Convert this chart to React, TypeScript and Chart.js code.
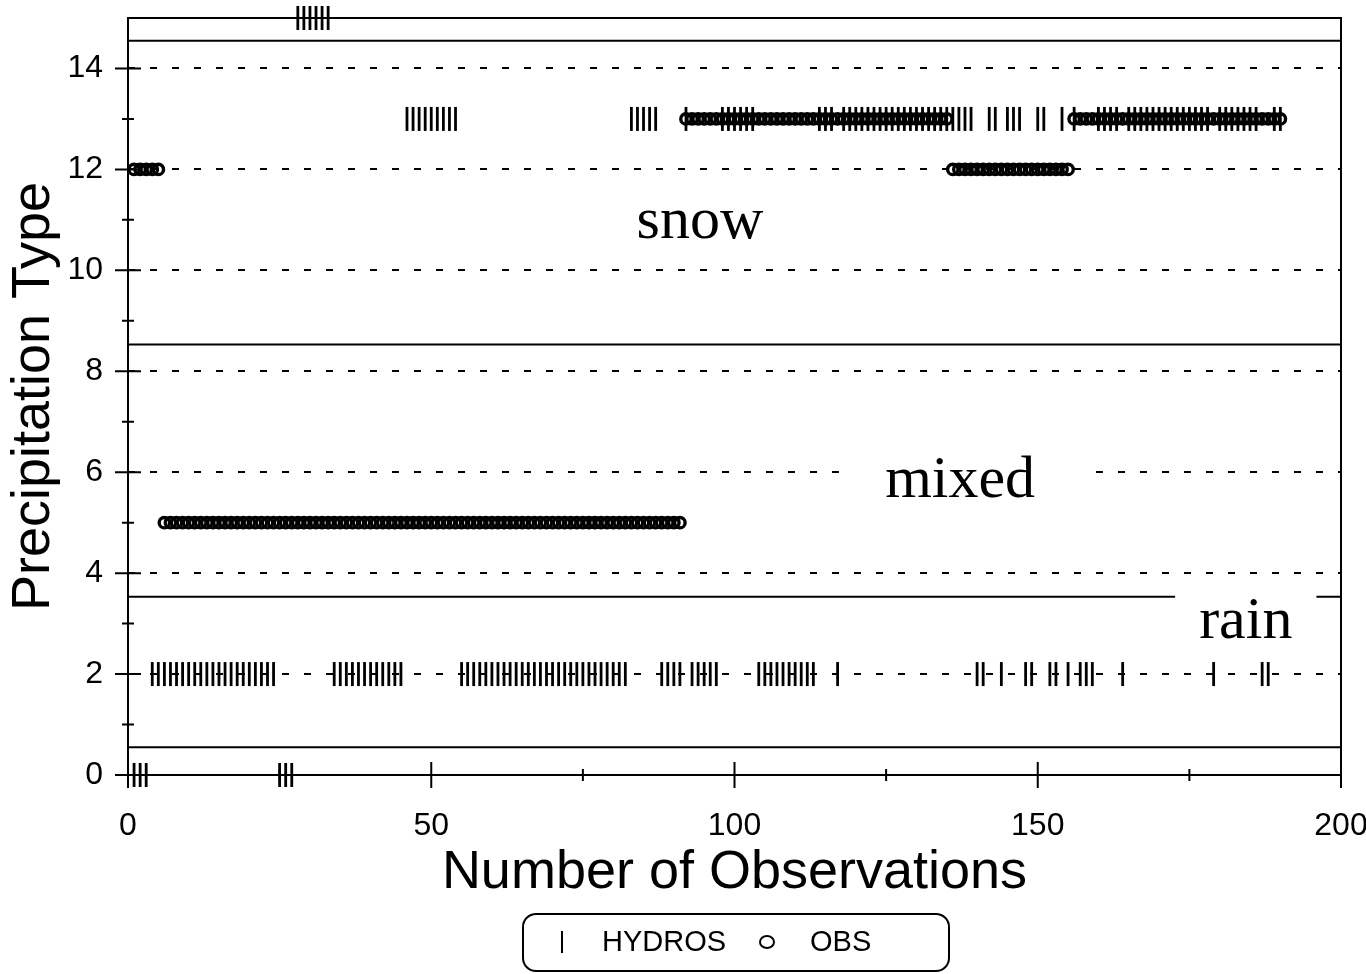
import React, { useEffect, useRef } from 'react';
import { Chart, registerables } from 'chart.js';

Chart.register(...registerables);

// Precipitation type coded by HYDROS, for each of the 190 observations
const hydrosValues = [
  0, 0, 0, 2, 2, 2, 2, 2, 2, 2,
  2, 2, 2, 2, 2, 2, 2, 2, 2, 2,
  2, 2, 2, 2, 0, 0, 0, 15, 15, 15,
  15, 15, 15, 2, 2, 2, 2, 2, 2, 2,
  2, 2, 2, 2, 2, 13, 13, 13, 13, 13,
  13, 13, 13, 13, 2, 2, 2, 2, 2, 2,
  2, 2, 2, 2, 2, 2, 2, 2, 2, 2,
  2, 2, 2, 2, 2, 2, 2, 2, 2, 2,
  2, 2, 13, 13, 13, 13, 13, 2, 2, 2,
  2, 13, 2, 2, 2, 2, 2, 13, 13, 13,
  13, 13, 13, 2, 2, 2, 2, 2, 2, 2,
  2, 2, 2, 13, 13, 13, 2, 13, 13, 13,
  13, 13, 13, 13, 13, 13, 13, 13, 13, 13,
  13, 13, 13, 13, 13, 13, 13, 13, 13, 2,
  2, 13, 13, 2, 13, 13, 13, 2, 2, 13,
  13, 2, 2, 13, 2, 13, 2, 2, 2, 13,
  13, 13, 13, 2, 13, 13, 13, 13, 13, 13,
  13, 13, 13, 13, 13, 13, 13, 13, 2, 13,
  13, 13, 13, 13, 13, 13, 2, 2, 13, 13,
];

// Observed precipitation type, for each of the 190 observations
const obsValues = [
  12, 12, 12, 12, 12, 5, 5, 5, 5, 5,
  5, 5, 5, 5, 5, 5, 5, 5, 5, 5,
  5, 5, 5, 5, 5, 5, 5, 5, 5, 5,
  5, 5, 5, 5, 5, 5, 5, 5, 5, 5,
  5, 5, 5, 5, 5, 5, 5, 5, 5, 5,
  5, 5, 5, 5, 5, 5, 5, 5, 5, 5,
  5, 5, 5, 5, 5, 5, 5, 5, 5, 5,
  5, 5, 5, 5, 5, 5, 5, 5, 5, 5,
  5, 5, 5, 5, 5, 5, 5, 5, 5, 5,
  5, 13, 13, 13, 13, 13, 13, 13, 13, 13,
  13, 13, 13, 13, 13, 13, 13, 13, 13, 13,
  13, 13, 13, 13, 13, 13, 13, 13, 13, 13,
  13, 13, 13, 13, 13, 13, 13, 13, 13, 13,
  13, 13, 13, 13, 13, 12, 12, 12, 12, 12,
  12, 12, 12, 12, 12, 12, 12, 12, 12, 12,
  12, 12, 12, 12, 12, 13, 13, 13, 13, 13,
  13, 13, 13, 13, 13, 13, 13, 13, 13, 13,
  13, 13, 13, 13, 13, 13, 13, 13, 13, 13,
  13, 13, 13, 13, 13, 13, 13, 13, 13, 13,
];

// Category boundaries (rain / mixed / snow) drawn as solid lines
const boundaryLevels = [0.55, 3.53, 8.53, 14.55];

// Tick labels
const xTickValues = [0, 50, 100, 150, 200];
const xTickLabels = ['0', '50', '100', '150', '200'];
const yTickValues = [0, 2, 4, 6, 8, 10, 12, 14];
const yTickLabels = ['0', '2', '4', '6', '8', '10', '12', '14'];

// Category names
const categoryNames = ['snow', 'mixed', 'rain'];

// Placement of the category names (data coordinates) and their white knock-out padding
const categoryPlacement = [
  { x: 94.3, y: 10.64, pad: 0 },
  { x: 137.2, y: 5.5, pad: 46 },
  { x: 184.3, y: 2.72, pad: 24 },
];

const SANS = '"Liberation Sans", Arial, Helvetica, sans-serif';
const SERIF = '"Liberation Serif", "Times New Roman", Times, serif';

const framePlugin = {
  id: 'frameAndLabels',
  afterDatasetsDraw(chart: any) {
    const ctx = chart.ctx;
    const xs = chart.scales.x;
    const ys = chart.scales.y;
    ctx.save();
    ctx.font = '60px ' + SERIF;
    ctx.textAlign = 'center';
    ctx.textBaseline = 'alphabetic';
    categoryNames.forEach((name, i) => {
      const p = categoryPlacement[i];
      const px = xs.getPixelForValue(p.x);
      const py = ys.getPixelForValue(p.y);
      const w = ctx.measureText(name).width;
      if (p.pad > 0) {
        ctx.fillStyle = '#fff';
        ctx.fillRect(px - w / 2 - p.pad, py - 50, w + 2 * p.pad, 60);
      }
      ctx.fillStyle = '#000';
      ctx.fillText(name, px, py);
    });
    ctx.restore();
  },
  afterDraw(chart: any) {
    const ctx = chart.ctx;
    const ca = chart.chartArea;
    const xs = chart.scales.x;
    const ys = chart.scales.y;
    ctx.save();
    ctx.strokeStyle = '#000';
    ctx.lineWidth = 2;
    ctx.setLineDash([]);
    ctx.strokeRect(ca.left, ca.top, ca.right - ca.left, ca.bottom - ca.top);
    ctx.beginPath();
    ys.ticks.forEach((t: any) => {
      if (t.value >= 15) return;
      const py = ys.getPixelForValue(t.value);
      const half = t.value % 2 === 0 ? 13 : 6;
      ctx.moveTo(ca.left - half, py);
      ctx.lineTo(ca.left + half, py);
    });
    xs.ticks.forEach((t: any) => {
      const px = xs.getPixelForValue(t.value);
      const half = t.value % 50 === 0 ? 13 : 6;
      ctx.moveTo(px, ca.bottom - half);
      ctx.lineTo(px, ca.bottom + half);
    });
    ctx.stroke();
    ctx.restore();
  },
};

export default function App() {
  const ref = useRef<HTMLCanvasElement | null>(null);

  useEffect(() => {
    if (!ref.current) return;
    const chart = new Chart(ref.current, {
      type: 'scatter',
      data: {
        datasets: [
          {
            label: 'HYDROS',
            data: hydrosValues.map((v, i) => ({ x: i + 1, y: v })),
            pointStyle: 'line',
            pointRotation: 90,
            pointRadius: 12,
            pointBorderWidth: 2.8,
            pointBorderColor: '#000',
            pointBackgroundColor: '#000',
            showLine: false,
            clip: false,
          } as any,
          {
            label: 'OBS',
            data: obsValues.map((v, i) => ({ x: i + 1, y: v })),
            pointStyle: 'circle',
            pointRadius: 5.2,
            pointBorderWidth: 3.4,
            pointBorderColor: '#000',
            pointBackgroundColor: 'rgba(0,0,0,0)',
            showLine: false,
            clip: false,
          } as any,
          ...boundaryLevels.map((lv) => ({
            type: 'line',
            label: '',
            data: [
              { x: 0, y: lv },
              { x: 200, y: lv },
            ],
            borderColor: '#000',
            borderWidth: 2,
            pointRadius: 0,
            showLine: true,
            fill: false,
            clip: false,
          })) as any[],
        ],
      },
      options: {
        responsive: false,
        animation: false,
        events: [],
        layout: { padding: { left: 0, right: 25, top: 18, bottom: 0 } },
        plugins: { legend: { display: false }, tooltip: { enabled: false } },
        scales: {
          x: {
            type: 'linear',
            min: 0,
            max: 200,
            afterFit: (s: any) => {
              s.height = 199;
              s.paddingLeft = 0;
              s.paddingRight = 0;
              s.paddingTop = 0;
              s.paddingBottom = 0;
            },
            ticks: {
              stepSize: 25,
              autoSkip: false,
              maxRotation: 0,
              padding: 32,
              color: '#000',
              font: { family: SANS, size: 32 },
              callback: (value: any) => {
                const i = xTickValues.indexOf(Number(value));
                return i >= 0 ? xTickLabels[i] : '';
              },
            },
            grid: { display: false, drawTicks: false },
            border: { display: false },
            title: {
              display: true,
              text: 'Number of Observations',
              color: '#000',
              font: { family: SANS, size: 54 },
              padding: { top: 0, bottom: 68 },
            },
          },
          y: {
            type: 'linear',
            min: 0,
            max: 15,
            afterFit: (s: any) => {
              s.width = 128;
              s.paddingLeft = 0;
              s.paddingRight = 0;
              s.paddingTop = 0;
              s.paddingBottom = 0;
            },
            ticks: {
              stepSize: 1,
              autoSkip: false,
              padding: 25,
              color: '#000',
              font: { family: SANS, size: 32 },
              callback: (value: any) => {
                const i = yTickValues.indexOf(Number(value));
                return i >= 0 ? yTickLabels[i] : '';
              },
            },
            grid: {
              drawTicks: false,
              lineWidth: 2,
              color: (c: any) => {
                const v = c.tick ? c.tick.value : -1;
                return v > 0 && v < 15 && v % 2 === 0 ? '#000' : 'rgba(0,0,0,0)';
              },
            },
            border: { display: false, dash: [7, 15] },
            title: {
              display: true,
              text: 'Precipitation Type',
              color: '#000',
              font: { family: SANS, size: 54 },
              padding: { top: 2, bottom: 0 },
            },
          },
        },
      } as any,
      plugins: [framePlugin],
    });
    return () => chart.destroy();
  }, []);

  return (
    <div style={{ position: 'absolute', left: 0, top: 0, width: 1366, height: 974, background: '#fff' }}>
      <canvas ref={ref} width={1366} height={974} style={{ display: 'block' }} />
      <div
        style={{
          position: 'absolute',
          left: 522,
          top: 913,
          width: 428,
          height: 59,
          border: '2px solid #000',
          borderRadius: 14,
          boxSizing: 'border-box',
          fontFamily: SANS,
          fontSize: 29,
          color: '#000',
        }}
      >
        <span style={{ position: 'absolute', left: 37, top: 16, width: 2, height: 22, background: '#000' }} />
        <span style={{ position: 'absolute', left: 78, top: 12, lineHeight: '29px', whiteSpace: 'nowrap' }}>HYDROS</span>
        <span
          style={{
            position: 'absolute',
            left: 235,
            top: 20,
            width: 16,
            height: 14,
            border: '2px solid #000',
            borderRadius: '50%',
            boxSizing: 'border-box',
          }}
        />
        <span style={{ position: 'absolute', left: 286, top: 12, lineHeight: '29px', whiteSpace: 'nowrap' }}>OBS</span>
      </div>
    </div>
  );
}
